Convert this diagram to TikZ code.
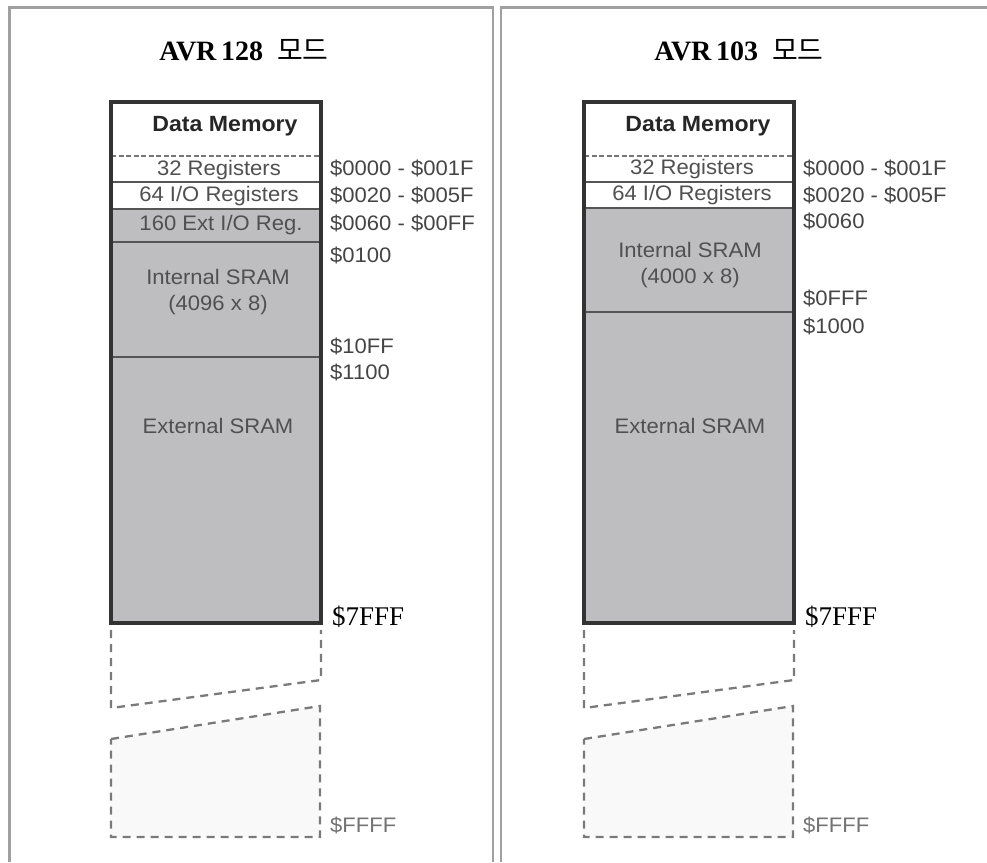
\documentclass[tikz,border=0pt]{standalone}
\usepackage{fontspec}
\setmainfont{Liberation Serif}
\newfontfamily\sansf[FakeStretch=1.05]{Liberation Sans}
\newfontfamily\krf{Noto Sans CJK KR}
\definecolor{cellgray}{HTML}{BEBEC0}
\definecolor{boxline}{HTML}{333333}
\definecolor{sepline}{HTML}{555555}
\definecolor{cellText}{HTML}{505050}
\definecolor{lblText}{HTML}{454545}
\definecolor{panelLine}{HTML}{A0A0A0}
\definecolor{dashLine}{HTML}{7A7A7A}
\definecolor{ghost}{HTML}{F9F9F9}
\begin{document}
\begin{tikzpicture}[x=1pt,y=-1pt,
  cell/.style={rectangle,minimum width=210pt,inner sep=0pt,anchor=north,outer sep=0pt},
  whitecell/.style={cell,fill=white},
  graycell/.style={cell,fill=cellgray},
  celltext/.style={text=cellText,font=\sansf\fontsize{21}{26}\selectfont,inner sep=0pt,align=center},
  headtext/.style={text=black!85,font=\sansf\bfseries\fontsize{22}{24}\selectfont,inner sep=0pt},
  addr/.style={anchor=west,inner sep=0pt,text=lblText,font=\sansf\fontsize{21}{24}\selectfont},
  faint/.style={anchor=west,inner sep=0pt,text=black!55,font=\sansf\fontsize{21}{24}\selectfont},
  endaddr/.style={anchor=west,inner sep=0pt,text=black,font=\fontsize{27}{28}\selectfont},
  title/.style={inner sep=0pt,font=\bfseries\fontsize{28}{30}\selectfont},
  outerbox/.style={draw=boxline,line width=3.2pt},
  sep/.style={draw=sepline,line width=1.7pt},
  dsep/.style={draw=sepline!80,line width=1.9pt,dash pattern=on 5pt off 2.5pt},
  ghostline/.style={draw=dashLine,line width=2.3pt,dash pattern=on 8pt off 6pt},
  panel/.style={draw=panelLine,line width=2.2pt}]
\useasboundingbox (0,0) rectangle (987,862);
\fill[white] (0,0) rectangle (987,862);

% panels
\draw[panel] (9.5,862) -- (9.5,7.5) -- (493,7.5) -- (493,862);
\draw[panel] (501,862) -- (501,7.5) -- (987,7.5);

% ===== left panel: AVR 128 =====
\node[title] (Ltitle) at (244,50) {AVR\,128~~{\krf\mdseries 모드}};

\node[whitecell,minimum height=54pt] (Ldm) at (216,102) {};
\node[whitecell,minimum height=26pt] (L32) at (216,156) {};
\node[whitecell,minimum height=27pt] (L64) at (216,182) {};
\node[graycell,minimum height=33pt] (Lext) at (216,209) {};
\node[graycell,minimum height=115pt] (Lint) at (216,242) {};
\node[graycell,minimum height=266pt] (Lxs) at (216,357) {};

\node[headtext] (LdmT) at (225,126) {Data Memory};
\node[celltext] (L32T) at (219,170) {32 Registers};
\node[celltext] (L64T) at (219,196) {64 I/O Registers};
\node[celltext] (LextT) at (221,225) {160 Ext I/O Reg.};
\node[celltext] (LintT) at (218,292) {Internal SRAM\\(4096 x 8)};
\node[celltext] (LxsT) at (218,426) {External SRAM};

\draw[dsep] (Ldm.south west) -- (Ldm.south east);
\draw[sep] (L32.south west) -- (L32.south east);
\draw[sep] (L64.south west) -- (L64.south east);
\draw[sep] (Lext.south west) -- (Lext.south east);
\draw[sep] (Lint.south west) -- (Lint.south east);
\draw[outerbox] (Ldm.north west) rectangle (Lxs.south east);

\coordinate (Lg1) at (111,630);
\coordinate (Lg2) at (111,708);
\coordinate (Lg3) at (321,680);
\coordinate (Lg4) at (321,630);
\draw[ghostline] (Lg1) -- (Lg2) -- (Lg3) -- (Lg4);
\coordinate (Lh1) at (111,739);
\coordinate (Lh2) at (320,706);
\coordinate (Lh3) at (320,837);
\coordinate (Lh4) at (111,837);
\filldraw[ghostline,fill=ghost] (Lh1) -- (Lh2) -- (Lh3) -- (Lh4) -- cycle;

\node[addr] (La1) at (330,168) {\$0000 - \$001F};
\node[addr] (La2) at (330,195) {\$0020 - \$005F};
\node[addr] (La3) at (330,223) {\$0060 - \$00FF};
\node[addr] (La4) at (330,255) {\$0100};
\node[addr] (La5) at (330,346) {\$10FF};
\node[addr] (La6) at (330,372) {\$1100};
\node[endaddr] (La7) at (332,617) {\$7FFF};
\node[faint] (La8) at (330,825) {\$FFFF};

% ===== right panel: AVR 103 =====
\node[title] (Rtitle) at (739,50) {AVR\,103~~{\krf\mdseries 모드}};

\node[whitecell,minimum height=54pt] (Rdm) at (689,102) {};
\node[whitecell,minimum height=26pt] (R32) at (689,156) {};
\node[whitecell,minimum height=26pt] (R64) at (689,182) {};
\node[graycell,minimum height=104pt] (Rint) at (689,208) {};
\node[graycell,minimum height=311pt] (Rxs) at (689,312) {};

\node[headtext] (RdmT) at (698,126) {Data Memory};
\node[celltext] (R32T) at (692,169) {32 Registers};
\node[celltext] (R64T) at (692,195) {64 I/O Registers};
\node[celltext] (RintT) at (690,265) {Internal SRAM\\(4000 x 8)};
\node[celltext] (RxsT) at (690,426) {External SRAM};

\draw[dsep] (Rdm.south west) -- (Rdm.south east);
\draw[sep] (R32.south west) -- (R32.south east);
\draw[sep] (R64.south west) -- (R64.south east);
\draw[sep] (Rint.south west) -- (Rint.south east);
\draw[outerbox] (Rdm.north west) rectangle (Rxs.south east);

\coordinate (Rg1) at (584,630);
\coordinate (Rg2) at (584,708);
\coordinate (Rg3) at (794,680);
\coordinate (Rg4) at (794,630);
\draw[ghostline] (Rg1) -- (Rg2) -- (Rg3) -- (Rg4);
\coordinate (Rh1) at (584,739);
\coordinate (Rh2) at (793,706);
\coordinate (Rh3) at (793,837);
\coordinate (Rh4) at (584,837);
\filldraw[ghostline,fill=ghost] (Rh1) -- (Rh2) -- (Rh3) -- (Rh4) -- cycle;

\node[addr] (Ra1) at (803,168) {\$0000 - \$001F};
\node[addr] (Ra2) at (803,195) {\$0020 - \$005F};
\node[addr] (Ra3) at (803,221) {\$0060};
\node[addr] (Ra4) at (803,298) {\$0FFF};
\node[addr] (Ra5) at (803,326) {\$1000};
\node[endaddr] (Ra6) at (805,617) {\$7FFF};
\node[faint] (Ra7) at (803,825) {\$FFFF};
\end{tikzpicture}
\end{document}
